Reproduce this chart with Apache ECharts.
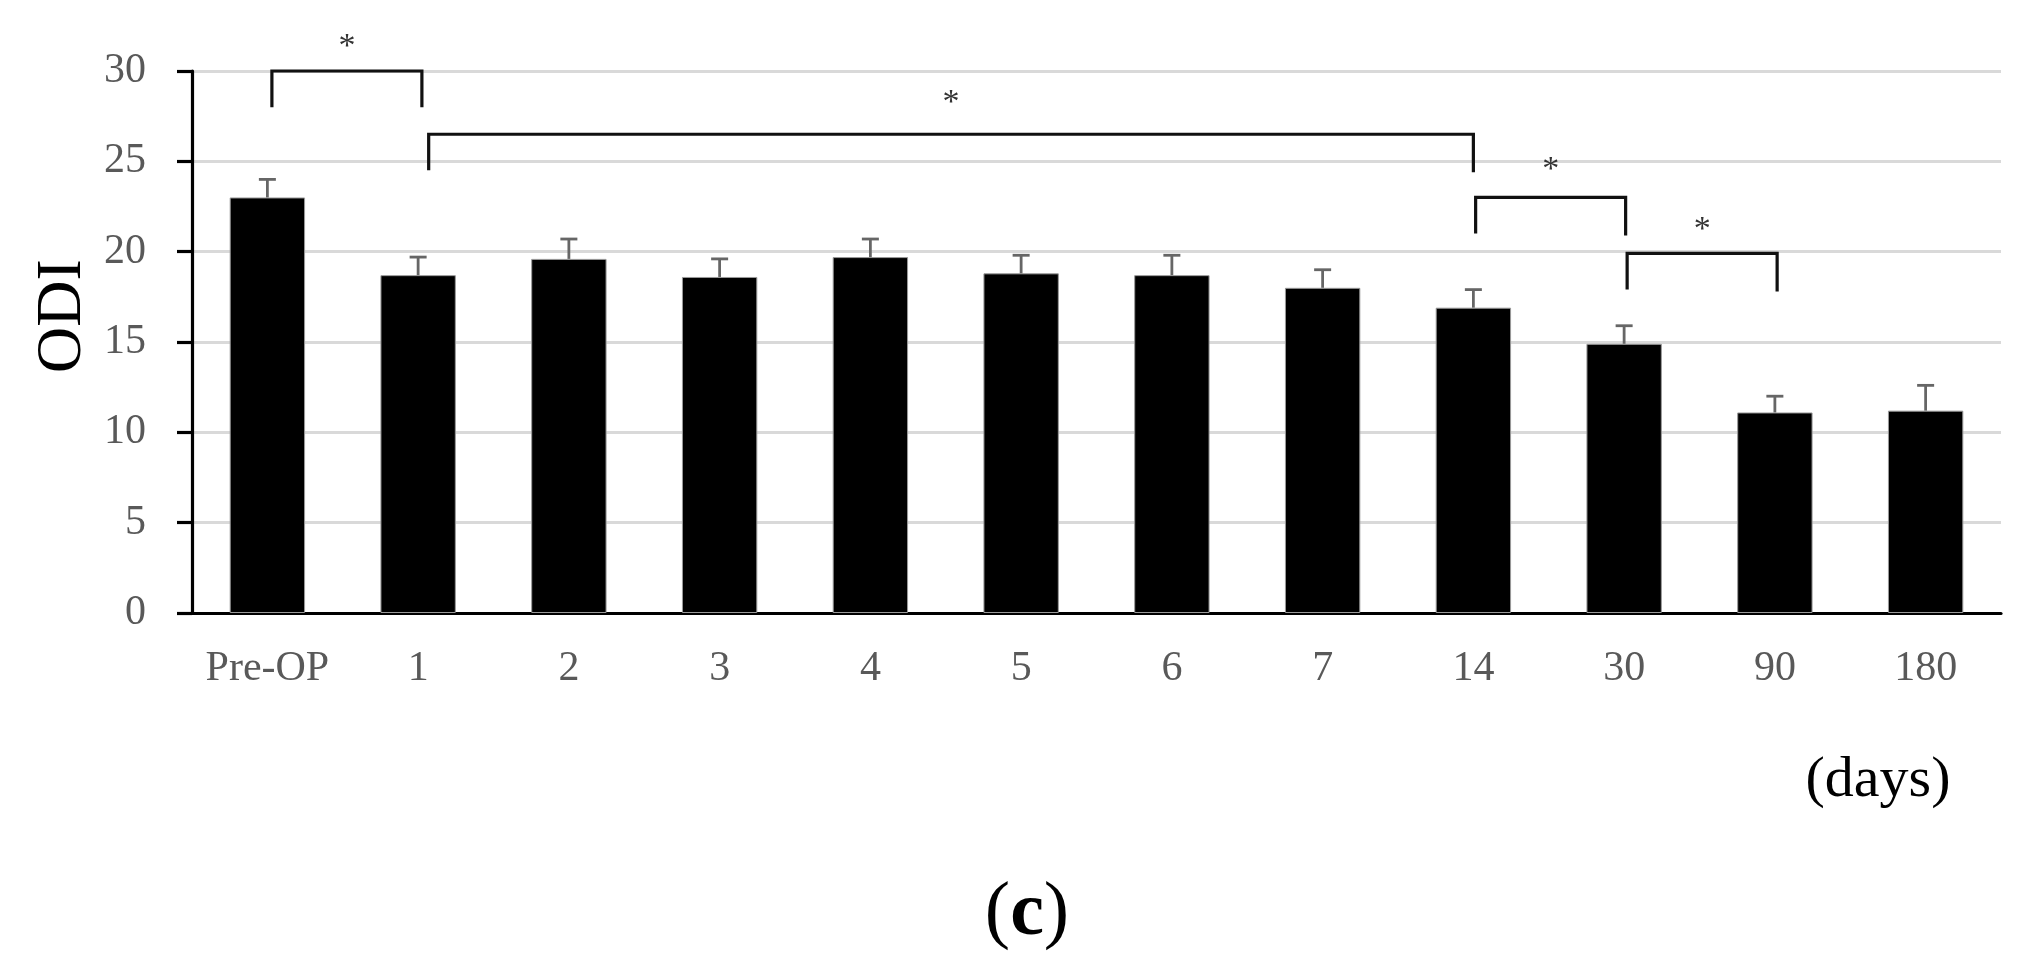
<!DOCTYPE html>
<html>
<head>
<meta charset="utf-8">
<script src="https://cdn.jsdelivr.net/npm/echarts@6/dist/echarts.min.js"></script>
<style>
html,body{margin:0;padding:0;background:#fff;}
#chart{width:2029px;height:967px;}
</style>
</head>
<body>
<div id="chart"></div>
<script>
// ---- data ----
var categories = ['Pre-OP','1','2','3','4','5','6','7','14','30','90','180'];
var odiMean = [23.0, 18.7, 19.6, 18.6, 19.7, 18.8, 18.7, 18.0, 16.9, 14.9, 11.1, 11.2];
var odiError = [1.0, 1.0, 1.1, 1.0, 1.0, 1.0, 1.1, 1.0, 1.0, 1.0, 0.9, 1.4];
var yTicks = [0, 5, 10, 15, 20, 25, 30];
// significance brackets: [fromIndex, toIndex, topValue, leftEndValue, rightEndValue, starValue]
var brackets = [
  [0, 1, 30.0, 28.0, 28.0, 31.7],
  [1, 8, 26.5, 24.5, 24.4, 28.6],
  [8, 9, 23.0, 21.0, 20.9, 24.9],
  [9, 10, 19.9, 17.9, 17.8, 21.6]
];
var bracketShift = [[0.03, 0.025], [0.07, 0.0], [0.015, 0.01], [0.02, 0.015]];

var FONT = '"Liberation Serif", "DejaVu Serif", serif';
var chart = echarts.init(document.getElementById('chart'), null, {renderer: 'canvas'});

var option = {
  backgroundColor: '#fff',
  animation: false,
  grid: {left: 192, right: 28, top: 71, bottom: 354, containLabel: false},
  xAxis: {
    type: 'category',
    data: categories,
    axisLine: {lineStyle: {color: '#000', width: 3.2}},
    axisTick: {show: false},
    axisLabel: {color: '#595959', fontFamily: FONT, fontSize: 42, margin: 35, interval: 0}
  },
  yAxis: {
    type: 'value',
    min: yTicks[0],
    max: yTicks[yTicks.length - 1],
    interval: yTicks[1] - yTicks[0],
    axisLine: {show: true, lineStyle: {color: '#000', width: 3.2}},
    axisTick: {show: true, length: 15, lineStyle: {color: '#000', width: 3.2}},
    axisLabel: {color: '#595959', fontFamily: FONT, fontSize: 42, margin: 46},
    splitLine: {lineStyle: {color: '#d9d9d9', width: 3}}
  },
  series: [
    {
      type: 'bar',
      data: odiMean,
      barWidth: '50%',
      itemStyle: {color: '#000', borderColor: '#9a9a9a', borderWidth: 1},
      z: 2
    },
    {
      type: 'custom',
      z: 3,
      data: odiMean.map(function (v, i) { return [i, v, v + odiError[i]]; }),
      renderItem: function (params, api) {
        var base = api.coord([api.value(0), api.value(1)]);
        var top = api.coord([api.value(0), api.value(2)]);
        var half = 8.5;
        var st = {stroke: '#666', lineWidth: 2.8};
        return {
          type: 'group',
          children: [
            {type: 'line', shape: {x1: base[0], y1: base[1], x2: top[0], y2: top[1]}, style: st},
            {type: 'line', shape: {x1: top[0] - half, y1: top[1], x2: top[0] + half, y2: top[1]}, style: st}
          ]
        };
      }
    },
    {
      type: 'custom',
      z: 4,
      clip: false,
      data: brackets.map(function (b, i) { return b.concat(bracketShift[i]); }),
      renderItem: function (params, api) {
        var bw = api.size([1, 0])[0];
        var i0 = api.value(0), i1 = api.value(1);
        var pTopL = api.coord([i0, api.value(2)]);
        var pTopR = api.coord([i1, api.value(2)]);
        var xl = pTopL[0] + api.value(6) * bw;
        var xr = pTopR[0] + api.value(7) * bw;
        var yt = pTopL[1];
        var yl = api.coord([i0, api.value(3)])[1];
        var yr = api.coord([i1, api.value(4)])[1];
        var ys = api.coord([i0, api.value(5)])[1] + 7;
        return {
          type: 'group',
          children: [
            {type: 'polyline', shape: {points: [[xl, yl], [xl, yt], [xr, yt], [xr, yr]]},
             style: {stroke: '#111', lineWidth: 3.2, fill: null, lineJoin: 'miter'}},
            {type: 'text', x: (xl + xr) / 2, y: ys,
             style: {text: '*', fill: '#333', font: '34px ' + FONT, align: 'center', verticalAlign: 'middle'}}
          ]
        };
      }
    }
  ],
  graphic: [
    {type: 'text', x: 63, y: 316, rotation: Math.PI / 2,
     style: {text: 'ODI', fill: '#000', font: '64px ' + FONT, align: 'center', verticalAlign: 'middle'}},
    {type: 'text', x: 1878, y: 781,
     style: {text: '(days)', fill: '#000', font: '58px ' + FONT, align: 'center', verticalAlign: 'middle'}},
    {type: 'text', x: 1027, y: 914,
     style: {text: '{p|(}{c|c}{p|)}', align: 'center', verticalAlign: 'middle',
       rich: {p: {fontFamily: FONT, fontSize: 76, fill: '#000', color: '#000'},
              c: {fontFamily: FONT, fontSize: 76, fontWeight: 'bold', fill: '#000', color: '#000'}}}}
  ]
};
chart.setOption(option);
</script>
</body>
</html>
